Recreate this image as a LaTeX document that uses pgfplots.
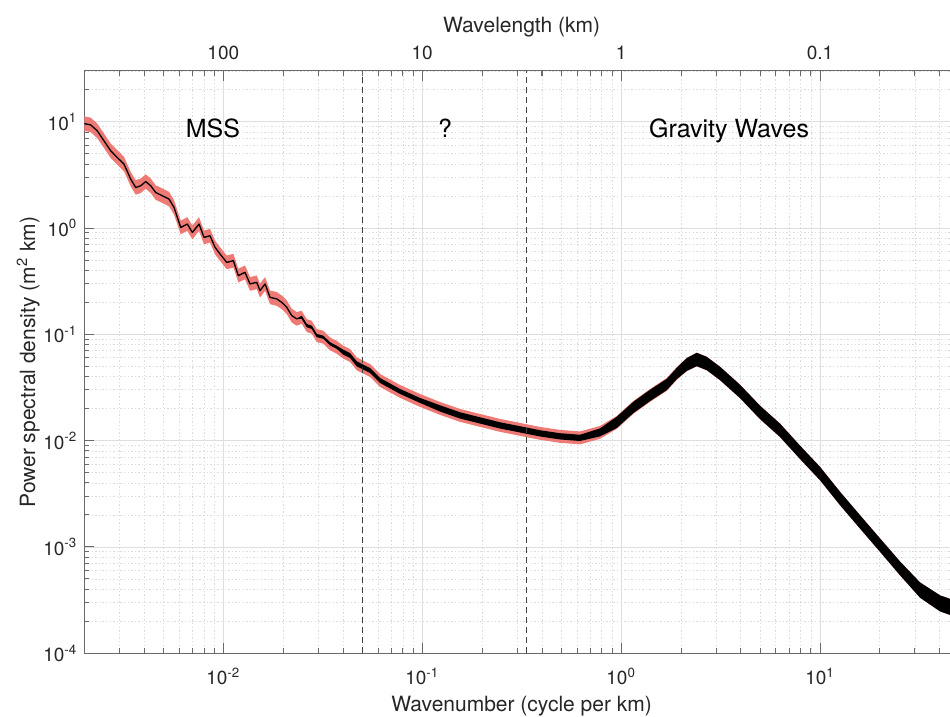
\documentclass[border=0pt]{standalone}
\usepackage{pgfplots}
\pgfplotsset{compat=1.18}
\usepackage{pgfplotstable}
\usepgfplotslibrary{fillbetween}
\usepackage{fontspec}
\setmainfont{TeX Gyre Heros}
\definecolor{band}{RGB}{238,122,118}
\definecolor{axgray}{RGB}{105,105,105}
\definecolor{txt}{RGB}{38,38,38}

% k = wavenumber (cycle per km), P = PSD, r = half-width factor of red band, b = half-width factor of black noise band
\pgfplotstableread{
k P r b
0.002 9.598 1.17 1.0
0.002154 9.332 1.17 1.0
0.002325 8.196 1.17 1.0
0.002513 6.601 1.17 1.0
0.002716 5.318 1.17 1.0
0.002932 4.601 1.17 1.0
0.003168 3.991 1.17 1.0
0.003423 2.884 1.17 1.0
0.003627 2.406 1.17 1.0
0.003842 2.496 1.17 1.0
0.004071 2.739 1.17 1.0
0.004315 2.496 1.17 1.0
0.004572 2.159 1.17 1.0
0.004935 2.011 1.17 1.0
0.005333 1.872 1.17 1.0
0.005651 1.561 1.17 1.0
0.006106 1.013 1.16 1.0
0.006592 1.090 1.16 1.0
0.006985 0.9091 1.16 1.0
0.007548 1.090 1.16 1.0
0.007998 0.8164 1.16 1.0
0.008572 0.8465 1.16 1.0
0.009084 0.6575 1.16 1.0
0.009625 0.5700 1.16 1.0
0.01040 0.4753 1.16 1.0
0.01123 0.4931 1.16 1.0
0.01190 0.3565 1.16 1.0
0.01285 0.3830 1.16 1.0
0.01362 0.2979 1.16 1.0
0.01472 0.3085 1.16 1.0
0.01529 0.2578 1.16 1.0
0.01621 0.2979 1.16 1.0
0.01717 0.2230 1.16 1.0
0.01856 0.2154 1.16 1.0
0.01966 0.2001 1.16 1.0
0.02084 0.1797 1.16 1.0
0.02207 0.1501 1.16 1.0
0.02339 0.1398 1.16 1.0
0.02478 0.1447 1.15 1.035
0.02626 0.1209 1.15 1.035
0.02782 0.1166 1.15 1.035
0.02948 0.09743 1.15 1.035
0.03183 0.09393 1.15 1.035
0.03440 0.08141 1.15 1.035
0.03716 0.07563 1.15 1.035
0.04012 0.06791 1.15 1.055
0.04335 0.06323 1.15 1.055
0.04685 0.05284 1.15 1.055
0.05057 0.04910 1.15 1.055
0.05465 0.04571 1.15 1.055
0.06135 0.03683 1.15 1.055
0.07736 0.02904 1.15 1.055
0.09747 0.02390 1.15 1.055
0.1229 0.02010 1.15 1.07
0.1549 0.01728 1.15 1.07
0.1952 0.01551 1.15 1.07
0.2461 0.01392 1.15 1.07
0.3102 0.01277 1.15 1.07
0.3912 0.01171 1.15 1.07
0.4930 0.01098 1.15 1.07
0.6215 0.01062 1.15 1.07
0.7833 0.01197 1.15 1.09
0.9504 0.01485 1.15 1.13
1.152 0.02055 1.15 1.13
1.397 0.02663 1.15 1.13
1.696 0.03378 1.15 1.13
1.904 0.04284 1.15 1.13
2.137 0.05204 1.155 1.15
2.399 0.05800 1.16 1.155
2.694 0.05318 1.16 1.155
3.142 0.04284 1.16 1.155
3.961 0.02904 1.16 1.155
4.993 0.01843 1.16 1.155
6.294 0.01250 1.16 1.155
7.932 0.007766 1.16 1.155
10.0 0.004899 1.16 1.155
12.61 0.002853 1.16 1.155
15.89 0.001720 1.16 1.155
20.03 0.001040 1.16 1.155
25.25 0.0006283 1.165 1.16
31.83 0.0003930 1.18 1.18
40.12 0.0002947 1.19 1.19
50 0.0002549 1.19 1.19
}\spec

\begin{document}
\begin{tikzpicture}
\begin{axis}[
  xmode=log, ymode=log, scale only axis,
  width=437.4pt, height=291.15pt,
  xmin=0.002, xmax=50, ymin=1e-4, ymax=30,
  tick align=inside, major tick length=5pt, minor tick length=2.6pt,
  axis line style={axgray, line width=0.5pt},
  every tick/.append style={axgray, line width=0.5pt},
  tick label style={font=\fontsize{9.5}{11}\selectfont, text=txt},
  label style={font=\fontsize{10.5}{12}\selectfont, text=txt},
  xtick={0.01,0.1,1,10},
  minor xtick={0.002,0.003,0.004,0.005,0.006,0.007,0.008,0.009,
    0.02,0.03,0.04,0.05,0.06,0.07,0.08,0.09,
    0.2,0.3,0.4,0.5,0.6,0.7,0.8,0.9,
    2,3,4,5,6,7,8,9,20,30,40,50},
  ytick pos=left, xticklabel pos=lower,
  ytick={1e-4,1e-3,1e-2,1e-1,1,10},
  yticklabels={10\textsuperscript{-4},10\textsuperscript{-3},10\textsuperscript{-2},10\textsuperscript{-1},10\textsuperscript{0},10\textsuperscript{1}},
  minor ytick={2e-4,3e-4,4e-4,5e-4,6e-4,7e-4,8e-4,9e-4,
    2e-3,3e-3,4e-3,5e-3,6e-3,7e-3,8e-3,9e-3,
    0.02,0.03,0.04,0.05,0.06,0.07,0.08,0.09,
    0.2,0.3,0.4,0.5,0.6,0.7,0.8,0.9,
    2,3,4,5,6,7,8,9,20,30},
  xticklabels={10\textsuperscript{-2},10\textsuperscript{-1},10\textsuperscript{0},10\textsuperscript{1}},
  xticklabel style={anchor=base, yshift=-15.85pt},
  grid=both,
  major grid style={black!13, line width=0.45pt},
  minor grid style={black!14, line width=0.45pt, dash pattern=on 0.7pt off 1.1pt},
  xlabel={Wavenumber (cycle per km)},
  ylabel={Power spectral density (m\textsuperscript{2} km)},
  xlabel style={at={(axis description cs:0.5,-0.1003)}, anchor=base},
  ylabel style={at={(axis description cs:-0.0562,0.5)}, anchor=base},
]
\coordinate (BL) at (rel axis cs:0,0);
\coordinate (TL) at (rel axis cs:0,1);

\addplot[name path=rU, draw=none, forget plot] table[x=k, y expr=\thisrow{P}*\thisrow{r}] {\spec};
\addplot[name path=rL, draw=none, forget plot] table[x=k, y expr=\thisrow{P}/\thisrow{r}] {\spec};
\addplot[fill=band, draw=none, forget plot] fill between[of=rU and rL];

\addplot[name path=bU, draw=none, forget plot] table[x=k, y expr=\thisrow{P}*\thisrow{b}] {\spec};
\addplot[name path=bL, draw=none, forget plot] table[x=k, y expr=\thisrow{P}/\thisrow{b}] {\spec};
\addplot[fill=black, draw=none, forget plot] fill between[of=bU and bL];

\addplot[black, line width=0.65pt, line join=round] table[x=k, y=P] {\spec};

\addplot[black!75, line width=0.55pt, dash pattern=on 3pt off 2pt] coordinates {(0.05,1e-4) (0.05,30)};
\addplot[black!75, line width=0.55pt, dash pattern=on 3pt off 2pt] coordinates {(0.3333,1e-4) (0.3333,30)};

\node[anchor=base, font=\fontsize{12.5}{14}\selectfont] at (axis cs:0.00887,7.09) {MSS};
\node[anchor=base, font=\fontsize{12.5}{14}\selectfont] at (axis cs:0.1303,7.09) {?};
\node[anchor=base, font=\fontsize{12.5}{14}\selectfont] at (axis cs:3.487,7.09) {Gravity Waves};
\end{axis}

\begin{axis}[
  xmode=log, ymode=log, scale only axis,
  width=437.4pt, height=291.15pt,
  xmin=0.002, xmax=50, ymin=1e-4, ymax=30,
  tick align=inside, major tick length=5pt, minor tick length=2.6pt,
  axis line style={axgray, line width=0.5pt},
  every tick/.append style={axgray, line width=0.5pt},
  tick label style={font=\fontsize{9.5}{11}\selectfont, text=txt},
  label style={font=\fontsize{10.5}{12}\selectfont, text=txt},
  xtick={0.01,0.1,1,10},
  minor xtick={0.002,0.003,0.004,0.005,0.006,0.007,0.008,0.009,
    0.02,0.03,0.04,0.05,0.06,0.07,0.08,0.09,
    0.2,0.3,0.4,0.5,0.6,0.7,0.8,0.9,
    2,3,4,5,6,7,8,9,20,30,40,50},
  axis x line*=top, axis y line=none,
  xticklabels={100,10,1,0.1},
  xticklabel style={anchor=base, yshift=5.5pt},
  xlabel={Wavelength (km)},
  xlabel style={at={(axis description cs:0.5,1.0653)}, anchor=base},
]
\addplot[draw=none] coordinates {(1,1)};
\end{axis}

\pgfresetboundingbox
\path[use as bounding box] ([xshift=-42.15pt,yshift=-31.85pt]BL) rectangle ([xshift=432.85pt,yshift=35.5pt]TL);
\end{tikzpicture}
\end{document}
